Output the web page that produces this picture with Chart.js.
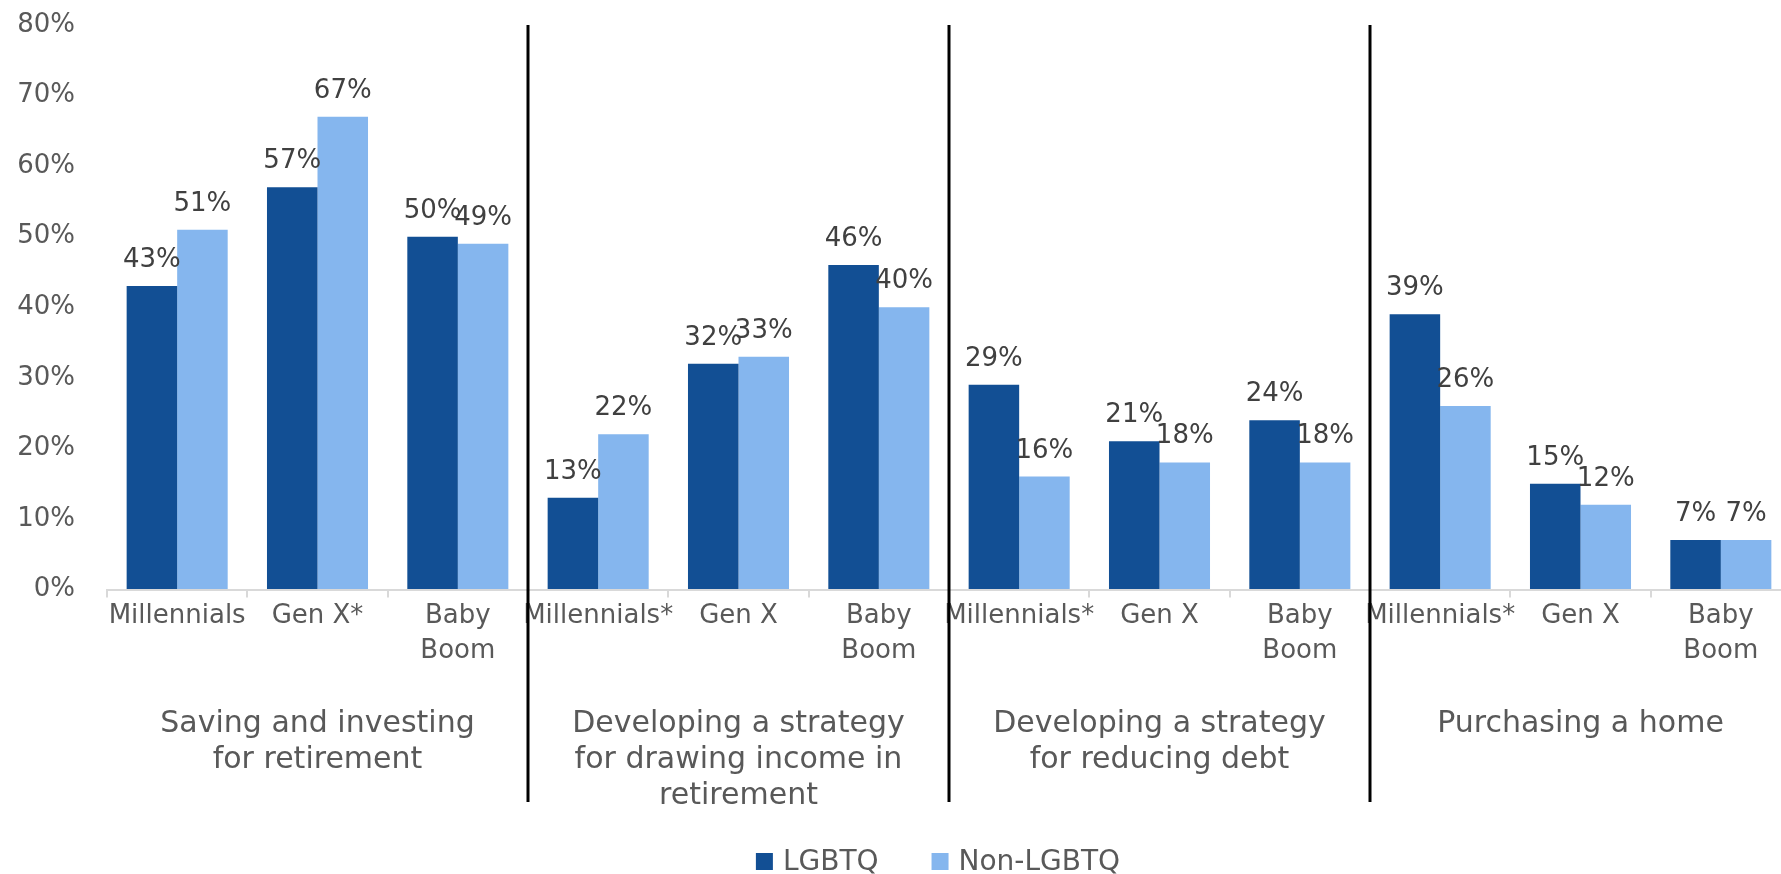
<!DOCTYPE html>
<html>
<head>
<meta charset="utf-8">
<script src="https://cdn.jsdelivr.net/npm/chart.js@4"></script>
<style>
  html, body { margin: 0; padding: 0; background: #fff; overflow: hidden; }
  #wrap { width: 1781px; height: 874px; overflow: hidden; }
</style>
</head>
<body>
<div id="wrap"><canvas id="mycanvas" width="1792" height="874"></canvas></div>
<script>
var categories = ["Millennials", "Gen X*", ["Baby", "Boom"],
	"Millennials*", "Gen X", ["Baby", "Boom"],
	"Millennials*", "Gen X", ["Baby", "Boom"],
	"Millennials*", "Gen X", ["Baby", "Boom"]];
var lgbtq = [43, 57, 50, 13, 32, 46, 29, 21, 24, 39, 15, 7];
var nonLgbtq = [51, 67, 49, 22, 33, 40, 16, 18, 18, 26, 12, 7];
var groups = [
	["Saving and investing", "for retirement"],
	["Developing a strategy", "for drawing income in", "retirement"],
	["Developing a strategy", "for reducing debt"],
	["Purchasing a home"]
];
var seriesNames = ["LGBTQ", "Non-LGBTQ"];

var FONT = '"DejaVu Sans", sans-serif';

var extras = {
	id: 'extras',
	afterDatasetsDraw: function(chart) {
		var ctx = chart.ctx;
		var x = chart.scales.x;
		var area = chart.chartArea;
		ctx.save();

		// value labels
		ctx.font = '26px ' + FONT;
		ctx.fillStyle = '#404040';
		ctx.textAlign = 'center';
		ctx.textBaseline = 'alphabetic';
		chart.data.datasets.forEach(function(ds, i) {
			chart.getDatasetMeta(i).data.forEach(function(bar, j) {
				ctx.fillText(ds.data[j] + '%', bar.x, bar.y - 19);
			});
		});

		// group separators
		ctx.strokeStyle = '#000';
		ctx.lineWidth = 3;
		for (var g = 1; g < groups.length; g++) {
			var px = (x.getPixelForValue(3 * g - 1) + x.getPixelForValue(3 * g)) / 2;
			ctx.beginPath();
			ctx.moveTo(px, 25);
			ctx.lineTo(px, 802);
			ctx.stroke();
		}

		// group titles
		ctx.font = '30px ' + FONT;
		ctx.fillStyle = '#595959';
		groups.forEach(function(lines, g) {
			var cx = (x.getPixelForValue(3 * g) + x.getPixelForValue(3 * g + 2)) / 2;
			lines.forEach(function(t, k) {
				ctx.fillText(t, cx, area.bottom + 142 + k * 36);
			});
		});

		// legend
		ctx.font = '28px ' + FONT;
		ctx.textAlign = 'left';
		ctx.textBaseline = 'middle';
		var box = 17, gap = 10, between = 53;
		var total = 0;
		seriesNames.forEach(function(n, i) {
			total += box + gap + ctx.measureText(n).width + (i ? between : 0);
		});
		var lx = 938 - total / 2;
		var ly = 861.5;
		chart.data.datasets.forEach(function(ds, i) {
			ctx.fillStyle = ds.backgroundColor;
			ctx.fillRect(lx, ly - box / 2, box, box);
			ctx.fillStyle = '#595959';
			ctx.fillText(ds.label, lx + box + gap, ly + 1);
			lx += box + gap + ctx.measureText(ds.label).width + between;
		});

		ctx.restore();
	}
};

var chartdata = {
	labels: categories,
	datasets: [
		{
			label: seriesNames[0],
			backgroundColor: "#124F94",
			data: lgbtq
		},
		{
			label: seriesNames[1],
			backgroundColor: "#85B6EE",
			data: nonLgbtq
		}
	]
};

var ctx = document.getElementById("mycanvas");

var barGraph = new Chart(ctx, {
	type: 'bar',
	data: chartdata,
	plugins: [extras],
	options: {
		responsive: false,
		animation: false,
		layout: { padding: { top: 25, left: 0, right: 1, bottom: 0 } },
		datasets: {
			bar: { categoryPercentage: 0.72, barPercentage: 1.0 }
		},
		plugins: {
			legend: { display: false },
			tooltip: { enabled: false }
		},
		scales: {
			x: {
				offset: true,
				grid: {
					offset: true,
					drawOnChartArea: false,
					drawTicks: true,
					tickLength: 8,
					color: '#d9d9d9',
					lineWidth: 2
				},
				border: { color: '#d9d9d9', width: 2 },
				ticks: {
					autoSkip: false,
					maxRotation: 0,
					minRotation: 0,
					padding: 1,
					color: '#595959',
					font: { family: FONT, size: 26, lineHeight: 1.35 }
				},
				afterFit: function(scale) { scale.height = 284.5; }
			},
			y: {
				min: 0,
				max: 80,
				// invisible tick marks just push the labels away from the bars
				grid: { drawOnChartArea: false, drawTicks: true, tickLength: 32, color: 'rgba(0,0,0,0)' },
				border: { display: false },
				ticks: {
					stepSize: 10,
					padding: 0,
					color: '#595959',
					font: { family: FONT, size: 26 },
					callback: function(v) { return v + '%'; }
				},
				afterFit: function(scale) { scale.width = 107; }
			}
		}
	}
});
</script>
</body>
</html>
